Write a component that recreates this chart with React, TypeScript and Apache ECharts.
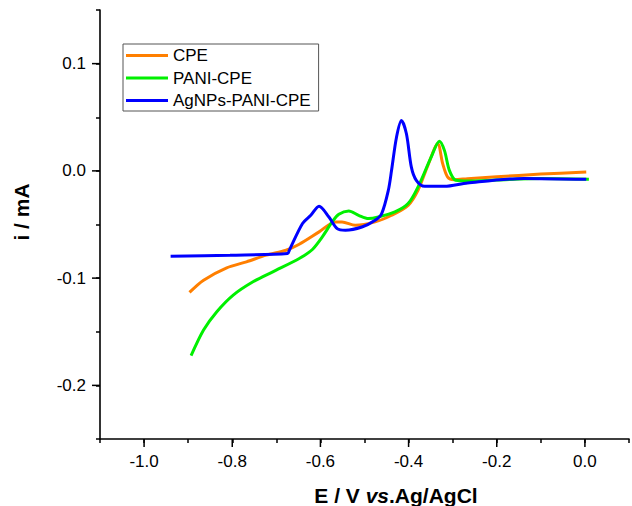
import React, { useEffect, useRef } from "react";
import * as echarts from "echarts";

const seriesNames = ["CPE", "PANI-CPE", "AgNPs-PANI-CPE"];
const seriesColors = ["#FF7F00", "#00F000", "#0000FF"];

const cpeX = [-0.897, -0.865, -0.8126, -0.7677, -0.7228, -0.6779, -0.648, -0.603, -0.5657, -0.551, -0.5208, -0.4759, -0.4386, -0.401, -0.3787, -0.3562, -0.3338, -0.3226, -0.3113, -0.2963, -0.2664, -0.2, -0.1, 0.003];
const cpeY = [-0.1133, -0.1019, -0.0904, -0.0848, -0.0786, -0.074, -0.0684, -0.0569, -0.0476, -0.0476, -0.0507, -0.0476, -0.0414, -0.0321, -0.0181, 0.0051, 0.0253, 0.0067, -0.0058, -0.0082, -0.0073, -0.0055, -0.003, -0.0011];

const paniX = [-0.8934, -0.8651, -0.835, -0.7978, -0.7529, -0.708, -0.648, -0.6182, -0.5957, -0.5733, -0.5582, -0.5358, -0.5134, -0.491, -0.4685, -0.431, -0.4011, -0.3787, -0.3488, -0.33, -0.3187, -0.3075, -0.2927, -0.2664, -0.2, -0.1, 0.009];
const paniY = [-0.1723, -0.1484, -0.1313, -0.1158, -0.1034, -0.0941, -0.0817, -0.0733, -0.0616, -0.0476, -0.0405, -0.0374, -0.0414, -0.0445, -0.043, -0.0383, -0.0305, -0.0151, 0.0128, 0.0277, 0.0191, 0.0005, -0.0088, -0.0095, -0.0085, -0.0072, -0.0079];

const agX = [-0.9398, -0.805, -0.6743, -0.6705, -0.6406, -0.6218, -0.6031, -0.5807, -0.562, -0.5432, -0.5059, -0.4759, -0.461, -0.4459, -0.4386, -0.4274, -0.4162, -0.4049, -0.3937, -0.3825, -0.3636, -0.3187, -0.2664, -0.1385, 0.003];
const agY = [-0.0795, -0.0786, -0.077, -0.074, -0.0491, -0.0414, -0.033, -0.043, -0.0538, -0.0553, -0.0523, -0.046, -0.0398, -0.0181, 0.0005, 0.0314, 0.047, 0.0346, 0.0035, -0.0088, -0.0144, -0.0144, -0.0113, -0.007, -0.0079];

const xMajorTicks = [-1.0, -0.8, -0.6, -0.4, -0.2, 0.0];
const yMajorTicks = [-0.2, -0.1, 0.0, 0.1];

const X_MIN = -1.1;
const X_MAX = 0.1;
const X_STEP = 0.1;
const Y_MIN = -0.25;
const Y_MAX = 0.15;
const Y_STEP = 0.05;

const FONT = "Arial, 'Liberation Sans', sans-serif";

function pairs(xs: number[], ys: number[]) {
  return xs.map((x, i) => [x, ys[i]]);
}

function fmtMajor(v: number, per: number) {
  // show only values that are multiples of 0.1
  const k = Math.round(v * per);
  if (k % 2 !== 0) return "";
  const r = Math.round(v * 10) / 10;
  return (Math.abs(r) < 1e-9 ? 0 : r).toFixed(1);
}

export default function App() {
  const ref = useRef<HTMLDivElement>(null);
  useEffect(() => {
    if (!ref.current) return;
    const chart = echarts.init(ref.current, undefined, { renderer: "svg" });

    const titles = [
      {
        type: "text",
        id: "ytitle",
        x: 21,
        y: 212,
        rotation: Math.PI / 2,
        style: {
          text: "i / mA",
          font: `bold 21px ${FONT}`,
          fill: "#000",
          align: "center",
          verticalAlign: "middle",
        },
      },
      {
        type: "text",
        id: "xtitle",
        x: 396,
        y: 495,
        style: {
          text: "{a|E / V }{b|vs}{a|.Ag/AgCl}",
          align: "center",
          verticalAlign: "middle",
          rich: {
            a: { font: `bold 21px ${FONT}`, fill: "#000" },
            b: { font: `italic bold 21px ${FONT}`, fill: "#000" },
          },
        },
      },
    ];

    const lineSeries = [
      { name: seriesNames[0], data: pairs(cpeX, cpeY) },
      { name: seriesNames[1], data: pairs(paniX, paniY) },
      { name: seriesNames[2], data: pairs(agX, agY) },
    ].map((s, i) => ({
      ...s,
      type: "line",
      symbol: "none",
      smooth: 0.3,
      color: seriesColors[i],
      lineStyle: { color: seriesColors[i], width: 3 },
    }));

    const labelBase = {
      show: true,
      margin: 14,
      fontSize: 17,
      color: "#000",
      fontFamily: FONT,
      showMinLabel: true,
      showMaxLabel: true,
    };
    const tickBase = { show: true, inside: false, length: 4, lineStyle: { color: "#000", width: 1.5 } };

    chart.setOption({
      animation: false,
      grid: { left: 100, top: 10, right: 0, bottom: 67 },
      legend: {
        orient: "vertical",
        left: 123,
        top: 44,
        data: seriesNames,
        icon: "rect",
        itemWidth: 42,
        itemHeight: 3,
        itemGap: 5.5,
        padding: [3, 8, 2, 3],
        borderColor: "#555",
        borderWidth: 1,
        textStyle: { fontSize: 17, color: "#000", fontFamily: FONT, lineHeight: 17 },
      },
      xAxis: {
        type: "value",
        min: X_MIN,
        max: X_MAX,
        interval: X_STEP,
        position: "bottom",
        splitLine: { show: false },
        axisLine: { show: true, onZero: false, lineStyle: { color: "#000", width: 1.6 } },
        axisTick: tickBase,
        axisLabel: { ...labelBase, formatter: (v: number) => fmtMajor(v, 10) },
      },
      yAxis: {
        type: "value",
        min: Y_MIN,
        max: Y_MAX,
        interval: Y_STEP,
        position: "left",
        splitLine: { show: false },
        axisLine: { show: true, onZero: false, lineStyle: { color: "#000", width: 1.6 } },
        axisTick: tickBase,
        axisLabel: { ...labelBase, formatter: (v: number) => fmtMajor(v, 20) },
      },
      graphic: titles,
      series: lineSeries,
    });

    // Longer major ticks, placed through the chart's own scales.
    const tickStyle = { stroke: "#000", lineWidth: 1.5 };
    const majors: any[] = [];
    xMajorTicks.forEach((v, i) => {
      const p = chart.convertToPixel({ gridIndex: 0 }, [v, Y_MIN]) as number[];
      if (p && isFinite(p[0]) && isFinite(p[1])) {
        majors.push({ type: "line", id: "xM" + i, silent: true, z: 100, shape: { x1: p[0], y1: p[1], x2: p[0], y2: p[1] + 8 }, style: tickStyle });
      }
    });
    yMajorTicks.forEach((v, i) => {
      const p = chart.convertToPixel({ gridIndex: 0 }, [X_MIN, v]) as number[];
      if (p && isFinite(p[0]) && isFinite(p[1])) {
        majors.push({ type: "line", id: "yM" + i, silent: true, z: 100, shape: { x1: p[0] - 8, y1: p[1], x2: p[0], y2: p[1] }, style: tickStyle });
      }
    });
    chart.setOption({ graphic: [...titles, ...majors] });

    return () => chart.dispose();
  }, []);
  return (
    <div
      ref={ref}
      style={{ position: "fixed", left: 0, top: 0, width: 632, height: 506, background: "#fff" }}
    />
  );
}
